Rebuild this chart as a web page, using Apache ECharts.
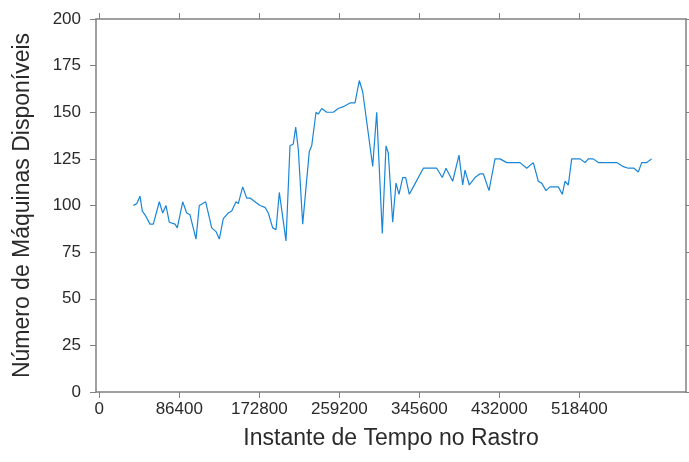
<!DOCTYPE html>
<html>
<head>
<meta charset="utf-8">
<script src="https://cdn.jsdelivr.net/npm/echarts@6/dist/echarts.min.js"></script>
<style>html,body{margin:0;padding:0;background:#fff}#c{width:689px;height:462px}</style>
</head>
<body>
<div id="c"></div>
<script>
const times = [36720,40390,43960,46440,49360,54760,58320,64800,68470,72040,75600,81760,84240,90070,94390,97960,104440,108000,114910,121390,126040,129600,133920,139320,142990,147640,150120,154870,159190,162760,168160,173560,178960,182520,187270,190840,194400,201640,205960,209520,212110,214920,219670,226800,229390,234040,236520,240190,245590,252720,258120,263520,270760,276160,280800,284470,295270,299590,305640,309640,312120,316870,320440,323680,327670,330910,334800,339120,349920,364390,370440,374440,381670,388480,392470,394960,399600,405760,411160,414720,420880,427360,432760,439990,454360,461590,468720,474120,477790,482440,486760,495720,500040,502960,506520,510190,519160,524560,528120,533520,538920,558790,565270,571320,577480,582120,585790,591190,596590];
const machines = [100,101,105,97,95,90,90,102,96,100,91,90,88,102,96,95,82,100,102,88,86,82,93,96,97,102,101,110,104,104,102,100,99,96,88,87,107,81,132,133,142,130,90,129,132,150,149,152,150,150,152,153,155,155,167,161,121,150,85,132,128,91,112,106,115,115,106,110,120,120,115,120,113,127,111,119,111,115,117,117,108,125,125,123,123,120,123,113,112,108,110,110,106,113,111,125,125,123,125,125,123,123,121,120,120,118,123,123,125];
const xTicks = [0,86400,172800,259200,345600,432000,518400];
const yTicks = [0,25,50,75,100,125,150,175,200];
const xTitle = 'Instante de Tempo no Rastro';
const yTitle = 'Número de Máquinas Disponíveis';

const data = times.map((t,i)=>[t,machines[i]]);
const font = 'Liberation Sans, Arial, sans-serif';
const lineC = '#808080';
const txtC = '#2a2a2a';
const chart = echarts.init(document.getElementById('c'), null, {renderer:'canvas'});
const xMin = -3564, xMax = 633636;
chart.setOption({
  animation:false,
  grid:{left:96,right:3,top:19,bottom:70,containLabel:false},
  xAxis:[{
    type:'value',min:xMin,max:xMax,position:'bottom',
    name:xTitle,nameLocation:'middle',nameGap:35,
    nameTextStyle:{fontFamily:font,fontSize:23,color:txtC},
    axisLine:{show:true,onZero:false,lineStyle:{color:lineC,width:1.5}},
    axisTick:{show:true,inside:false,length:6,customValues:xTicks,lineStyle:{color:lineC}},
    axisLabel:{show:true,customValues:xTicks,fontFamily:font,fontSize:17,color:txtC,margin:9,formatter:v=>String(v)},
    splitLine:{show:false}
  },{
    type:'value',min:xMin,max:xMax,position:'top',
    axisLine:{show:true,onZero:false,lineStyle:{color:lineC,width:1.5}},
    axisTick:{show:true,inside:false,length:6,customValues:xTicks,lineStyle:{color:lineC}},
    axisLabel:{show:false},splitLine:{show:false}
  }],
  yAxis:[{
    type:'value',min:0,max:200,interval:25,position:'left',
    name:yTitle,nameLocation:'middle',nameGap:62,nameRotate:90,
    nameTextStyle:{fontFamily:font,fontSize:23,color:txtC},
    axisLine:{show:true,onZero:false,lineStyle:{color:lineC,width:1.5}},
    axisTick:{show:true,inside:false,length:6,lineStyle:{color:lineC}},
    axisLabel:{show:true,fontFamily:font,fontSize:17,color:txtC,margin:15,customValues:yTicks},
    splitLine:{show:false}
  },{
    type:'value',min:0,max:200,interval:25,position:'right',
    axisLine:{show:true,onZero:false,lineStyle:{color:lineC,width:1.5}},
    axisTick:{show:true,inside:false,length:6,lineStyle:{color:lineC}},
    axisLabel:{show:false},splitLine:{show:false}
  }],
  series:[{
    type:'line',data:data,xAxisIndex:0,yAxisIndex:0,
    showSymbol:false,symbol:'none',
    lineStyle:{color:'#1a86d8',width:1.2}
  }]
});
</script>
</body>
</html>
